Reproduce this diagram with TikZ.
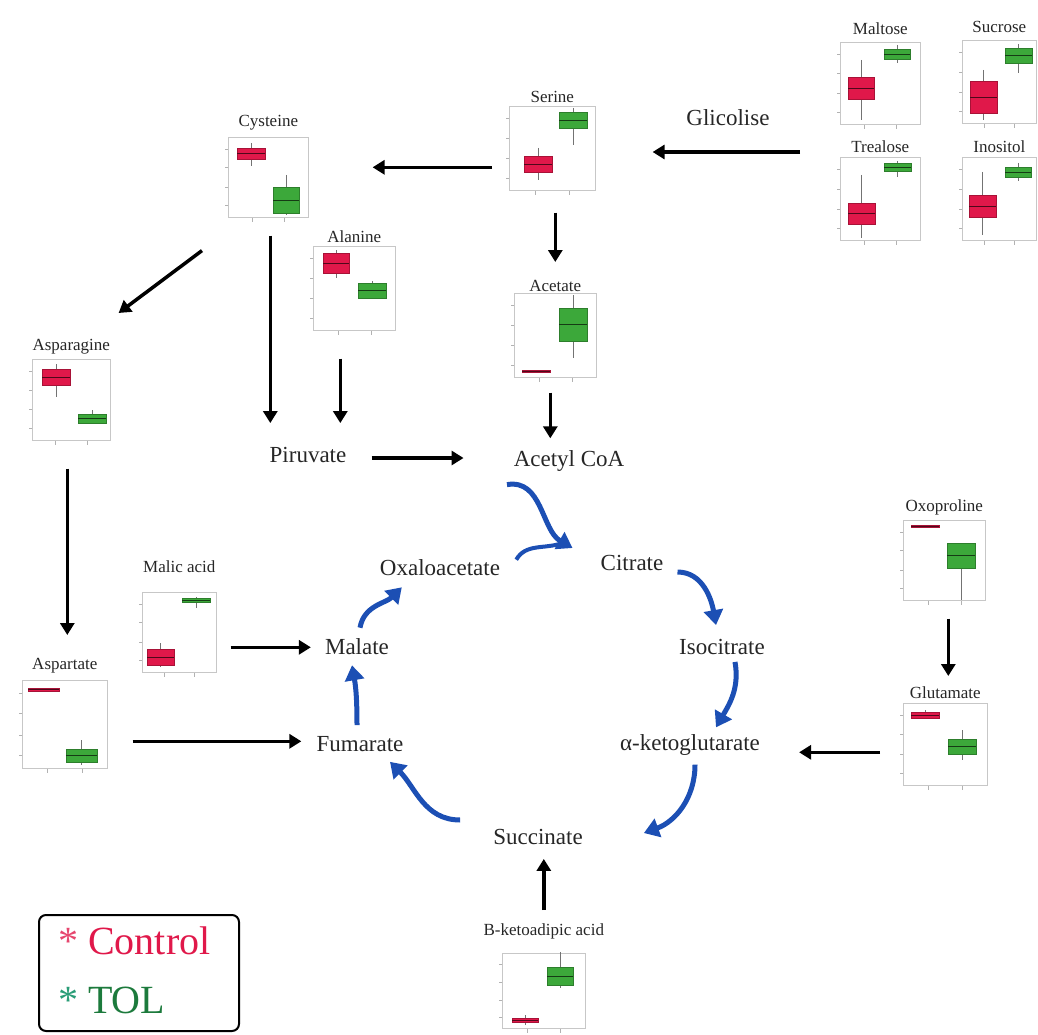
\documentclass[tikz,border=0pt]{standalone}
\usepackage{fontspec}
\setmainfont{Liberation Serif}
\usetikzlibrary{arrows.meta,positioning,calc}

\definecolor{ctrl}{HTML}{E0184A}
\definecolor{tol}{HTML}{3CA83A}
\definecolor{tolt}{HTML}{1C7A3C}
\definecolor{tolast}{HTML}{2A9D77}
\definecolor{tca}{HTML}{1C4FB4}

\tikzset{
  frame/.style={draw=black!22, line width=0.6pt, inner sep=0pt},
  ptitle/.style={font=\fontsize{17}{18}\selectfont, text=black!85, inner sep=1pt},
  metab/.style={font=\fontsize{23}{24}\selectfont, text=black!85, inner sep=2pt},
  flow/.style={line width=3.5pt, -{Triangle[length=12pt,width=14pt]}},
  turn/.style={draw=tca, line width=5pt, -{Triangle[length=15pt,width=19pt]}},
}

\newcommand{\plot}[6]{%
  \node[frame, minimum width=#3pt, minimum height=#4pt, anchor=north west] (#1) at (#2) {};
  \node[ptitle, above=#6pt of #1] (#1-t) {#5};
  \foreach \f in {0.15,0.38,0.62,0.85}
    \draw[black!30] ($(#1.south west)!\f!(#1.north west)$) -- ++(-3,0);
  \foreach \f in {0.3,0.7}
    \draw[black!30] ($(#1.south west)!\f!(#1.south east)$) -- ++(0,4);
}
\newcommand{\bx}[7]{%
  \draw[black!55, line width=0.6pt] ({(#2+#3)/2},#4) -- ({(#2+#3)/2},#7);
  \filldraw[fill=#1, draw=#1!75!black, line width=0.6pt] (#2,#5) rectangle (#3,#6);
  \draw[#1!35!black, line width=0.8pt] (#2,{(#5+#6)/2}) -- (#3,{(#5+#6)/2});
}

\begin{document}
\begin{tikzpicture}[x=1pt,y=-1pt]
  \useasboundingbox (0,0) rectangle (1038,1035);

  \plot{mal-s}{840,42}{80}{82}{Maltose}{6}
  \bx{ctrl}{848}{874}{60}{77}{99}{120}
  \bx{tol}{884}{910}{45}{49}{59}{63}
  \plot{suc-s}{962,40}{74}{83}{Sucrose}{6}
  \bx{ctrl}{970}{997}{70}{81}{113}{120}
  \bx{tol}{1005}{1032}{44}{48}{63}{73}
  \plot{tre}{840,157}{80}{83}{Trealose}{3}
  \bx{ctrl}{848}{875}{175}{203}{224}{238}
  \bx{tol}{884}{911}{161}{163}{171}{177}
  \plot{ino}{962,157}{74}{83}{Inositol}{3}
  \bx{ctrl}{969}{996}{172}{195}{217}{235}
  \bx{tol}{1005}{1031}{163}{167}{177}{181}

  \plot{ser}{509,106}{86}{84}{Serine}{2}
  \bx{ctrl}{524}{552}{148}{156}{172}{180}
  \bx{tol}{559}{587}{108}{112}{128}{145}
  \plot{cys}{228,137}{80}{80}{Cysteine}{6}
  \bx{ctrl}{237}{265}{143}{148}{159}{166}
  \bx{tol}{273}{299}{175}{187}{213}{215}
  \plot{ala}{313,246}{82}{84}{Alanine}{2}
  \bx{ctrl}{323}{349}{250}{253}{273}{278}
  \bx{tol}{358}{386}{281}{283}{298}{298}
  \plot{ace}{514,293}{82}{84}{Acetate}{0}
  \bx{ctrl}{522}{550}{370}{370}{372}{372}
  \bx{tol}{559}{587}{295}{308}{341}{358}
  \plot{asn}{32,359}{78}{81}{Asparagine}{4}
  \bx{ctrl}{42}{70}{364}{369}{385}{397}
  \bx{tol}{78}{106}{410}{414}{423}{423}
  \plot{asp}{22,680}{85}{88}{Aspartate}{6}
  \bx{ctrl}{28}{59}{688}{688}{691}{691}
  \bx{tol}{66}{97}{740}{749}{762}{765}
  \plot{mlc}{142,592}{74}{80}{Malic acid}{18}
  \bx{ctrl}{147}{174}{643}{649}{665}{667}
  \bx{tol}{182}{210}{597}{598}{602}{608}
  \plot{oxo}{903,520}{82}{80}{Oxoproline}{4}
  \bx{ctrl}{911}{939}{525}{525}{527}{527}
  \bx{tol}{947}{975}{543}{543}{568}{600}
  \plot{glu}{903,703}{84}{82}{Glutamate}{3}
  \bx{ctrl}{911}{939}{710}{712}{718}{719}
  \bx{tol}{948}{976}{730}{739}{754}{760}
  \plot{bka}{502,953}{83}{75}{B-ketoadipic acid}{13}
  \bx{ctrl}{512}{538}{1015}{1018}{1022}{1025}
  \bx{tol}{547}{573}{952}{967}{985}{988}

  \node[metab] (glic) at (728,118) {Glicolise};
  \node[metab] (pir) at (308,455) {Piruvate};
  \node[metab] (acoa) at (569,461) {Acetyl CoA};
  \node[metab] (oxa) at (440,568) {Oxaloacetate};
  \node[metab] (cit) at (632,563) {Citrate};
  \node[metab] (iso) at (722,647) {Isocitrate};
  \node[metab] (akg) at (690,745) {α-ketoglutarate};
  \node[metab] (suc) at (538,837) {Succinate};
  \node[metab] (fum) at (360,744) {Fumarate};
  \node[metab] (mal) at (357,647) {Malate};

  \draw[flow] ([shift={(-40,-5)}]tre.north west) -- ([shift={(57,-5)}]ser.east |- tre.north west);
  \draw[flow] ([shift={(-17,19)}]ser.west) -- ([shift={(64,19)}]cys.east |- ser.west);
  \draw[flow] ([shift={(3,22)}]ser.south) -- ([shift={(3,-31)}]ser.south |- ace.north);
  \draw[flow] ([shift={(-26,33)}]cys.south west) -- ([shift={(8,-46)}]asn.north east);
  \draw[flow] ([shift={(2,18)}]cys.south) -- ([shift={(2,-22)}]cys.south |- pir.north);
  \draw[flow] ([shift={(-14,28)}]ala.south) -- ([shift={(-14,-22)}]ala.south |- pir.north);
  \draw[flow] ([shift={(-5,15)}]ace.south) -- ([shift={(-5,-10)}]ace.south |- acoa.north);
  \draw[flow] ([shift={(23,3)}]pir.east) -- ([shift={(-48,3)}]acoa.west |- pir.east);
  \draw[flow] ([shift={(-4,28)}]asn.south) -- ([shift={(-4,-45)}]asn.south |- asp.north);
  \draw[flow] ([shift={(14,15)}]mlc.east) -- ([shift={(-12,15)}]mal.west |- mlc.east);
  \draw[flow] ([shift={(25,17)}]asp.east) -- ([shift={(-13,17)}]fum.west |- asp.east);
  \draw[flow] ([shift={(4,18)}]oxo.south) -- ([shift={(4,-27)}]oxo.south |- glu.north);
  \draw[flow] ([shift={(-23,8)}]glu.west) -- ([shift={(37,8)}]akg.east |- glu.west);
  \draw[flow] ([shift={(0,-43)}]bka.north) -- ([shift={(0,12)}]bka.north |- suc.south);

  \draw[turn] ([shift={(-62,11)}]acoa.south) to[out=10,in=150] ([shift={(-26,-15)}]cit.west);
  \draw[tca, line width=4pt] ([shift={(14,2)}]oxa.north east) to[out=60,in=200] ([shift={(-36,-20)}]cit.west);
  \draw[turn] ([shift={(12,9)}]cit.east) to[out=0,in=100] ([shift={(-6,-12)}]iso.north);
  \draw[turn] ([shift={(13,5)}]iso.south) to[out=-80,in=60] ([shift={(26,-5)}]akg.north);
  \draw[turn] ([shift={(5,7)}]akg.south) to[out=-90,in=20] ([shift={(59,-4)}]suc.east);
  \draw[turn] ([shift={(-31,-17)}]suc.west) to[out=180,in=-45] ([shift={(30,8)}]fum.south);
  \draw[turn] ([shift={(-3,-9)}]fum.north) to[out=90,in=-80] ([shift={(-5,8)}]mal.south);
  \draw[turn] ([shift={(3,-9)}]mal.north) to[out=80,in=225] ([shift={(24,9)}]oxa.south west);

  \node[draw, rounded corners=7pt, line width=2pt, minimum width=200pt, minimum height=116pt, anchor=north west] (leg) at (38,914) {};
  \node[font=\fontsize{40}{40}\selectfont, anchor=west, inner sep=0pt] (lc) at (58,941) {\textcolor{ctrl!80}{*} \textcolor{ctrl}{Control}};
  \node[font=\fontsize{40}{40}\selectfont, anchor=west, inner sep=0pt] (lt) at (58,1000) {\textcolor{tolast}{*} \textcolor{tolt}{TOL}};
\end{tikzpicture}
\end{document}
